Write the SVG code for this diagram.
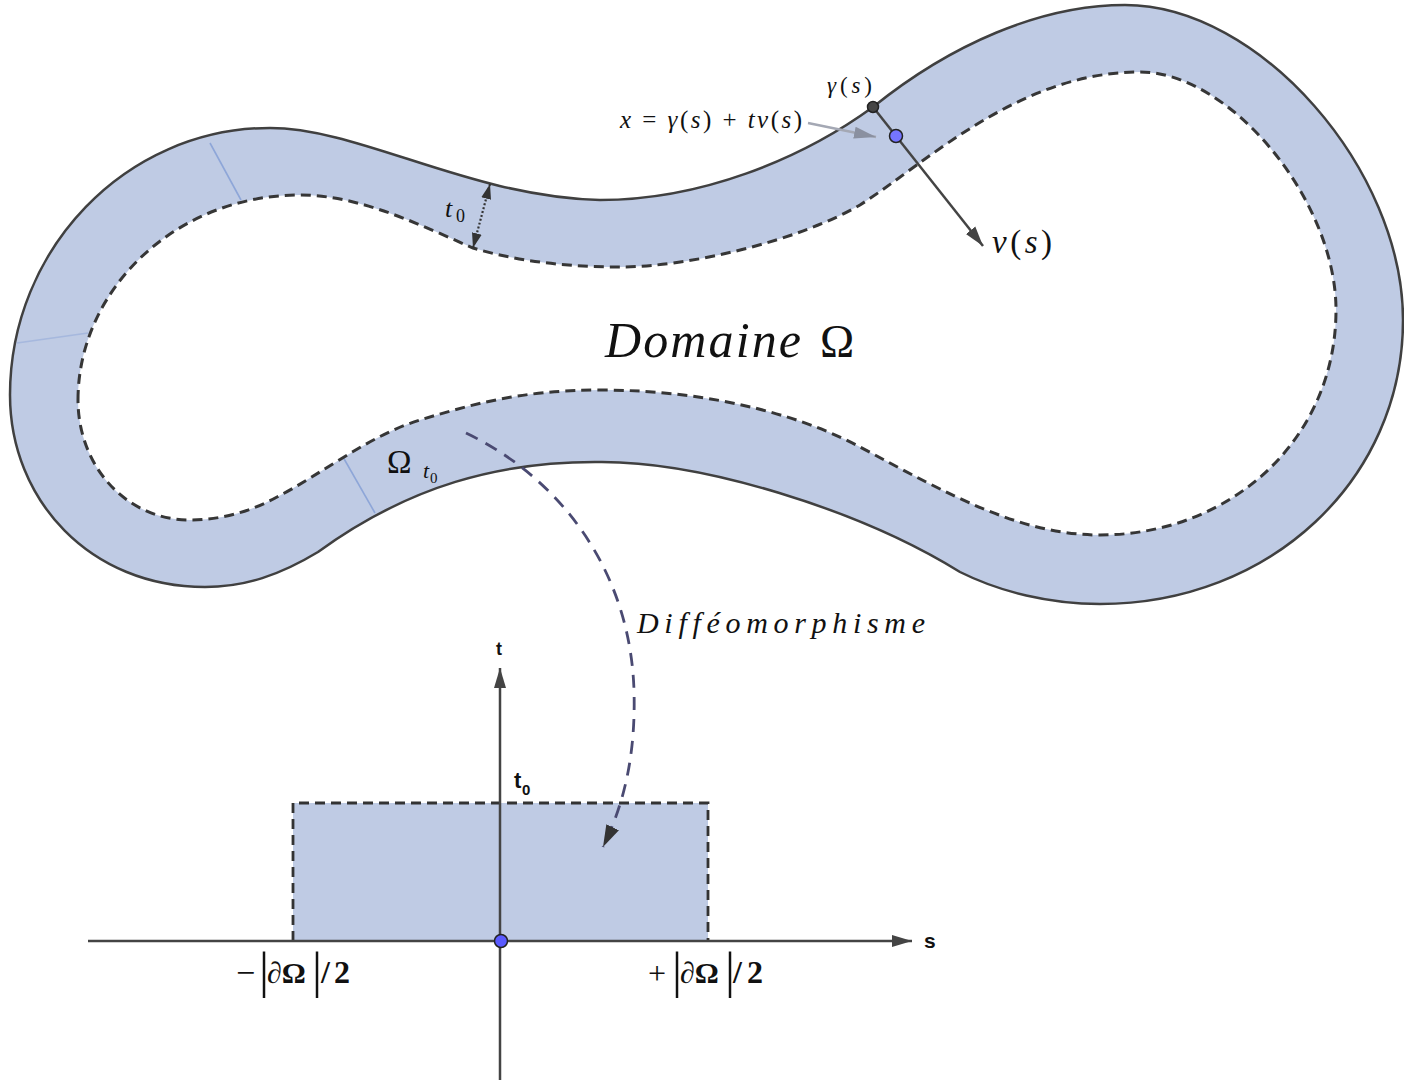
<svg xmlns="http://www.w3.org/2000/svg" width="1404" height="1083" viewBox="0 0 1404 1083">
<style>
.band{fill:#bfcbe4;fill-rule:evenodd;stroke:none}
.outer{fill:none;stroke:#404040;stroke-width:2.5}
.inner{fill:none;stroke:#363636;stroke-width:3;stroke-dasharray:10,6}
.streak{stroke:#8ea6d8;stroke-width:1.6;fill:none}
.math{font-family:"Liberation Serif","Times New Roman",serif;fill:#111}
.it{font-style:italic}
.axis{stroke:#444;stroke-width:2.5;fill:none}
.lbl{font-family:"Liberation Sans",Arial,sans-serif;font-weight:bold;fill:#111}
.bold{font-family:"Liberation Serif","Times New Roman",serif;font-weight:bold;fill:#111}
</style>
<defs>
<marker id="ahDark" markerUnits="userSpaceOnUse" markerWidth="22" markerHeight="14" refX="20" refY="7" orient="auto-start-reverse">
<path d="M0,1 L20,7 L0,13 Z" fill="#444"/>
</marker>
<marker id="ahSmall" markerUnits="userSpaceOnUse" markerWidth="16" markerHeight="12" refX="15" refY="6" orient="auto-start-reverse">
<path d="M0,1 L15,6 L0,11 Z" fill="#333"/>
</marker>
<marker id="ahGray" markerUnits="userSpaceOnUse" markerWidth="24" markerHeight="14" refX="22" refY="7" orient="auto">
<path d="M0,1 L22,7 L0,13 Z" fill="#8a90a0"/>
</marker>
<marker id="ahDiff" markerUnits="userSpaceOnUse" markerWidth="24" markerHeight="16" refX="22" refY="8" orient="auto">
<path d="M0,1 L22,8 L0,15 Z" fill="#333"/>
</marker>
</defs>

<g id="domain">
<path class="band" d="M 10,395 C 10,250 125,128 270,128 C 360,128 470,197 600,200 C 700,200 800,160 873,107 C 950,45 1040,5 1125,5 C 1260,5 1403,170 1403,320 C 1403,480 1270,604 1100,604 C 1050,604 1000,592 960,572 C 860,510 700,460 595,462 C 500,462 410,485 318,552 C 280,575 245,587 205,587 C 90,587 10,500 10,395 Z M 78,400 C 78,290 175,195 300,195 C 360,195 420,225 473,248 C 520,262 570,267 620,267 C 690,267 800,240 860,205 C 930,160 1020,72 1140,72 C 1230,72 1336,200 1336,310 C 1336,440 1230,535 1100,535 C 1020,535 950,495 860,447 C 810,420 720,390 600,390 C 520,390 470,405 420,420 C 370,435 320,475 277,497 C 250,512 220,520 190,520 C 125,520 78,465 78,400 Z"/>
<path class="streak" d="M210,143 L241,200"/>
<path class="streak" d="M17,343 L88,333" stroke-width="1" opacity="0.5"/>
<path class="streak" d="M343,457 L375,513"/>
<path class="outer" d="M 10,395 C 10,250 125,128 270,128 C 360,128 470,197 600,200 C 700,200 800,160 873,107 C 950,45 1040,5 1125,5 C 1260,5 1403,170 1403,320 C 1403,480 1270,604 1100,604 C 1050,604 1000,592 960,572 C 860,510 700,460 595,462 C 500,462 410,485 318,552 C 280,575 245,587 205,587 C 90,587 10,500 10,395 Z"/>
<path class="inner" d="M 78,400 C 78,290 175,195 300,195 C 360,195 420,225 473,248 C 520,262 570,267 620,267 C 690,267 800,240 860,205 C 930,160 1020,72 1140,72 C 1230,72 1336,200 1336,310 C 1336,440 1230,535 1100,535 C 1020,535 950,495 860,447 C 810,420 720,390 600,390 C 520,390 470,405 420,420 C 370,435 320,475 277,497 C 250,512 220,520 190,520 C 125,520 78,465 78,400 Z"/>
<text class="math it" x="605" y="357" font-size="50" textLength="196" lengthAdjust="spacing">Domaine</text>
<text class="math" x="820" y="357" font-size="46">Ω</text>
<text class="math" x="387" y="473" font-size="33">Ω</text>
<text class="math it" x="423" y="478" font-size="22">t</text>
<text class="math" x="430" y="483" font-size="15">0</text>
</g>

<g id="rectangle">
<rect x="293" y="803" width="415" height="138" fill="#bfcbe4"/>
<path d="M293,941 L293,803 L708,803 L708,941" fill="none" stroke="#333" stroke-width="2.8" stroke-dasharray="10,6"/>
</g>

<g id="connectors">
<path d="M490,184 L473,248" stroke="#333" stroke-width="2.2" stroke-dasharray="2,2" fill="none" marker-start="url(#ahSmall)" marker-end="url(#ahSmall)"/>
<path d="M873,107 L983,246" stroke="#444" stroke-width="2.5" fill="none" marker-end="url(#ahDark)"/>
<path d="M808,123 L876,137" stroke="#a4a8b4" stroke-width="2.5" fill="none" marker-end="url(#ahGray)"/>
<path d="M466,433 C 560,478 630,570 634,690 C 636,760 622,808 603,847" stroke="#4a4a72" stroke-width="2.8" stroke-dasharray="13,9" fill="none" marker-end="url(#ahDiff)"/>
</g>

<g id="point-gamma">
<circle cx="873" cy="107" r="5.5" fill="#454545" stroke="#222" stroke-width="1.5"/>
<text class="math" x="827" y="93" font-size="23" textLength="45" lengthAdjust="spacing"><tspan class="it">γ</tspan>(<tspan class="it">s</tspan>)</text>
</g>
<g id="point-x">
<circle cx="896" cy="136" r="6.5" fill="#7575ff" stroke="#222" stroke-width="1.5"/>
<text class="math" x="620" y="128" font-size="25" textLength="182" lengthAdjust="spacing"><tspan class="it">x</tspan> = <tspan class="it">γ</tspan>(<tspan class="it">s</tspan>) + <tspan class="it">tν</tspan>(<tspan class="it">s</tspan>)</text>
</g>
<g id="label-nu">
<text class="math" x="992" y="253" font-size="33" textLength="60" lengthAdjust="spacing"><tspan class="it">ν</tspan>(<tspan class="it">s</tspan>)</text>
</g>
<g id="label-t0">
<text class="math it" x="445" y="217" font-size="26">t</text>
<text class="math" x="456" y="222" font-size="18">0</text>
</g>
<g id="label-diffeo">
<text class="math it" x="637" y="633" font-size="30" textLength="288" lengthAdjust="spacing">Difféomorphisme</text>
</g>

<g id="axes">
<path class="axis" d="M88,941 L912,941" marker-end="url(#ahDark)"/>
<path class="axis" d="M500,1080 L500,668" marker-end="url(#ahDark)"/>
<text class="lbl" x="924" y="948" font-size="21">s</text>
<text class="lbl" x="496" y="655" font-size="18">t</text>
<text class="lbl" x="514" y="788" font-size="22">t</text>
<text class="lbl" x="522" y="795" font-size="15">0</text>
</g>
<g id="origin">
<circle cx="501" cy="941" r="6.5" fill="#5a5aff" stroke="#222" stroke-width="1.5"/>
</g>
<g id="label-minus">
<text class="math" x="236" y="984" font-size="34">−</text>
<text class="math" x="259" y="987" font-size="50">|</text>
<text class="bold" x="267" y="983" font-size="30">∂Ω</text>
<text class="math" x="312" y="987" font-size="50">|</text>
<text class="bold" x="321" y="983" font-size="32" textLength="29" lengthAdjust="spacing">/2</text>
</g>
<g id="label-plus">
<text class="math" x="648" y="984" font-size="32">+</text>
<text class="math" x="672" y="987" font-size="50">|</text>
<text class="bold" x="680" y="983" font-size="30">∂Ω</text>
<text class="math" x="725" y="987" font-size="50">|</text>
<text class="bold" x="733" y="983" font-size="32" textLength="30" lengthAdjust="spacing">/2</text>
</g>
</svg>
